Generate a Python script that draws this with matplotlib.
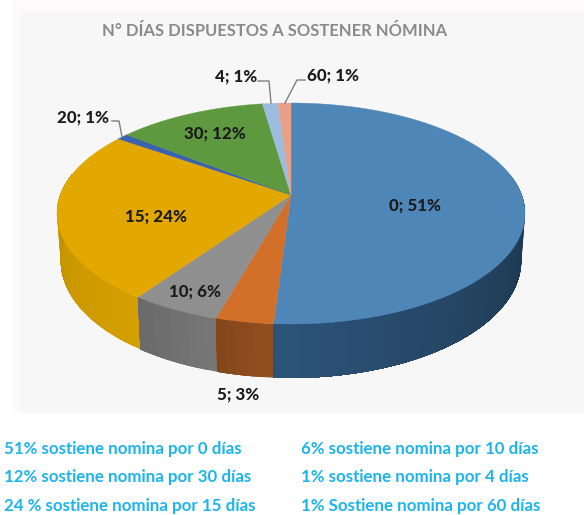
import numpy as np
import matplotlib
matplotlib.use("Agg")
import matplotlib.pyplot as plt
from matplotlib.colors import to_rgb

# data
categories = ["0", "5", "10", "15", "20", "30", "4", "60"]
shares = [51.0, 3.4, 5.3, 25.0, 0.9, 12.1, 1.25, 1.05]
labels = ["0; 51%", "5; 3%", "10; 6%", "15; 24%", "20; 1%", "30; 12%", "4; 1%", "60; 1%"]
top_colors = ["#4f86b8", "#d2702a", "#8f8f8f", "#e3a800", "#3a62ad", "#5f993f", "#9dbde0", "#e8a088"]
wall_colors = ["#2c5378", "#8a4a1c", "#707070", "#c89600", "#2a4d70", "#4a7a30", "#7a9cc0", "#c08068"]
title = "N° DÍAS DISPUESTOS A SOSTENER NÓMINA"
notes_left = ["51% sostiene nomina por 0 días", "12% sostiene nomina por 30 días", "24 % sostiene nomina por 15 días"]
notes_right = ["6% sostiene nomina por 10 días", "1% sostiene nomina por 4 días", "1% Sostiene nomina por 60 días"]

W, H = 584, 515
fig = plt.figure(figsize=(W / 100, H / 100), dpi=100)
ax = fig.add_axes([0, 0, 1, 1])
ax.set_xlim(0, W)
ax.set_ylim(H, 0)
ax.axis("off")
FONT = "Lato"

ax.fill([13, 584, 584, 13], [0, 0, 413, 413], color="#fcfafa", lw=0, zorder=0)
ax.fill([20, 584, 584, 20], [12, 12, 413, 413], color="#f7f7f7", lw=0, zorder=0.5)

K = 0.1675
CX = 291


def project(theta, a, b, apex):
    u, v = np.sin(theta), np.cos(theta)
    w = 1 + K * v
    return CX + a * u / w, apex - b * v / w


def top(theta):
    return project(theta, 230.7, 107.4, 195)


def bottom(theta):
    return project(theta, 227, 114, 241)


edges = np.cumsum([0] + shares) / sum(shares) * 2 * np.pi

# side wall: strips on the near half of the pie, painted left-over-right with overlap
for i in range(len(shares)):
    t0, t1 = edges[i], edges[i + 1]
    lo, hi = max(t0, np.pi / 2 - 0.2), min(t1, 3 * np.pi / 2 + 0.2)
    if hi <= lo:
        continue
    steps = max(2, int((hi - lo) * 30))
    ts = np.linspace(lo, hi, steps + 1)
    base = np.array(to_rgb(wall_colors[i]))
    for j in range(steps):
        s = np.linspace(ts[j], hi, 40)
        xt, yt = top(s)
        xb, yb = bottom(s)
        if i == 0:
            f = 1.0 - 0.38 * (np.pi - ts[j]) / (np.pi / 2)
        else:
            f = 1.06 - 0.12 * j / steps
        c = np.clip(base * f, 0, 1)
        ax.fill(np.r_[xt, xb[::-1]], np.r_[yt, yb[::-1]], color=c, lw=0, zorder=2 + j * 1e-3)

# top face
for i in range(len(shares)):
    ts = np.linspace(edges[i], edges[i + 1], 120)
    x, y = top(ts)
    ax.fill(np.r_[CX, x], np.r_[195, y], color=top_colors[i], lw=0.3, ec=top_colors[i], zorder=3)

# labels
txt = dict(family=FONT, weight="black", color="#1c1c1c", fontsize=12.2, ha="center", va="center", zorder=5)
positions = [(415, 205), (238, 394), (195, 291), (156, 216), (83, 117), (215, 133), (236, 76), (333, 75)]
for s, (x, y) in zip(labels, positions):
    ax.text(x, y, s, **txt)

# leader lines
leader = dict(color="#7f7f7f", lw=1, zorder=4)
ax.plot([112, 119, 122], [121, 121, 137], **leader)
ax.plot([258, 269, 271], [81, 81, 103], **leader)
ax.plot([305, 297, 285], [80, 80, 103], **leader)

ax.text(275, 31, title, family=FONT, weight="bold", color="#8a8a8a", fontsize=11.9,
        ha="center", va="center", zorder=5)

for y, l, r in zip([449, 477, 506], notes_left, notes_right):
    ax.text(4, y, l, family=FONT, weight="bold", color="#1db4ec", fontsize=12.2, va="center")
    ax.text(301, y, r, family=FONT, weight="bold", color="#1db4ec", fontsize=12.2, va="center")

fig.savefig("out.png", dpi=100)
